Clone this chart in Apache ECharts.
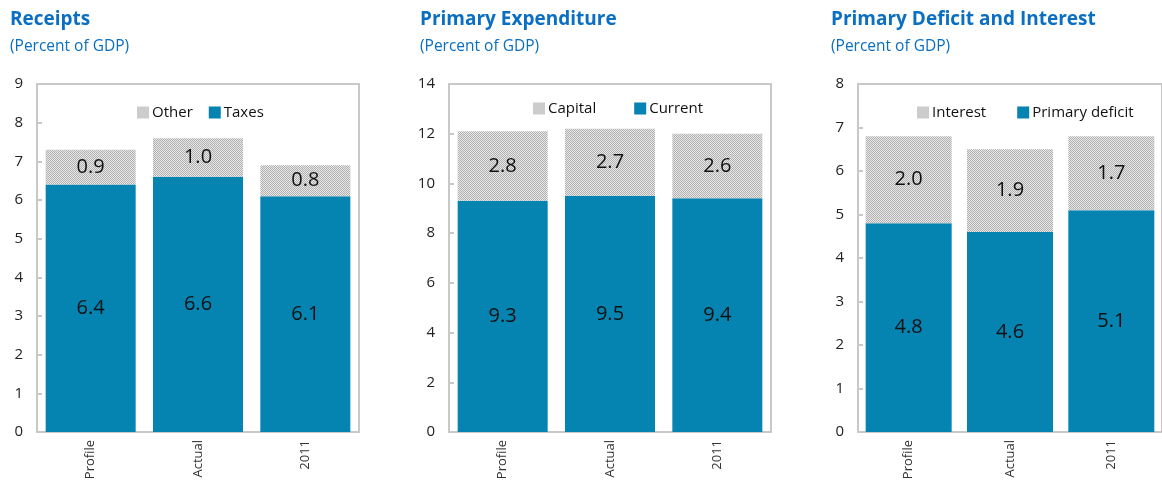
<!DOCTYPE html>
<html>
<head>
<meta charset="utf-8">
<script src="https://cdn.jsdelivr.net/npm/echarts@6/dist/echarts.min.js"></script>
<style>
  html, body { margin: 0; padding: 0; background: #fff; }
  #chart { width: 1162px; height: 483px; }
</style>
</head>
<body>
<div id="chart"></div>
<script>
// categories shared by all three panels
const categories = ['Profile', 'Actual', '2011'];

// Receipts
const taxes = [6.4, 6.6, 6.1];
const otherReceipts = [0.9, 1.0, 0.8];
// Primary expenditure
const current = [9.3, 9.5, 9.4];
const capital = [2.8, 2.7, 2.6];
// Primary deficit and interest
const primaryDeficit = [4.8, 4.6, 5.1];
const interest = [2.0, 1.9, 1.7];

const titleColor = '#0a6fc2';
const blue = '#0583b1';
const font = '"Open Sans", "Noto Sans", sans-serif';

// dotted grey fill (checkerboard)
function makePattern() {
  const c = document.createElement('canvas');
  c.width = 2; c.height = 2;
  const ctx = c.getContext('2d');
  ctx.fillStyle = '#e8e8e8';
  ctx.fillRect(0, 0, 2, 2);
  ctx.fillStyle = '#b0b0b0';
  ctx.fillRect(0, 0, 1, 1);
  ctx.fillRect(1, 1, 1, 1);
  return c;
}
const grey = {image: makePattern(), repeat: 'repeat'};

const panels = [
  {title: 'Receipts', titleLeft: 5, left: 37, width: 322, max: 9, interval: 1,
   names: ['Other', 'Taxes'], base: taxes, top: otherReceipts, barWidth: 90,
   legendLeft: 132, legendTop: 100, legendGap: 16},
  {title: 'Primary Expenditure', titleLeft: 415, left: 449, width: 322, max: 14, interval: 2,
   names: ['Capital', 'Current'], base: current, top: capital, barWidth: 90,
   legendLeft: 528, legendTop: 96, legendGap: 38},
  {title: 'Primary Deficit and Interest', titleLeft: 826, left: 858, width: 312, max: 8, interval: 1,
   names: ['Interest', 'Primary deficit'], base: primaryDeficit, top: interest, barWidth: 86,
   legendLeft: 912, legendTop: 100, legendGap: 31}
];

const chart = echarts.init(document.getElementById('chart'));

const option = {
  animation: false,
  textStyle: {fontFamily: font},
  title: [], legend: [], grid: [], xAxis: [], yAxis: [], series: []
};

panels.forEach((p, i) => {
  option.title.push({
    text: p.title,
    subtext: '(Percent of GDP)',
    left: p.titleLeft, top: 5,
    itemGap: 10,
    textStyle: {color: titleColor, fontSize: 19, fontWeight: 'bold', fontFamily: font},
    subtextStyle: {color: titleColor, fontSize: 15.5, fontFamily: font}
  });
  option.legend.push({
    data: p.names,
    left: p.legendLeft, top: p.legendTop,
    itemWidth: 12, itemHeight: 12, itemGap: p.legendGap,
    icon: 'rect',
    textStyle: {fontSize: 15, color: '#111', fontFamily: font, padding: [0, 0, 0, -2]}
  });
  option.grid.push({
    left: p.left, width: p.width, top: 84, height: 348,
    show: true, borderColor: '#c8c8c8', borderWidth: 2, backgroundColor: 'transparent'
  });
  option.xAxis.push({
    type: 'category', gridIndex: i, data: categories,
    axisLine: {show: true, lineStyle: {color: '#c8c8c8', width: 2}},
    axisTick: {show: false},
    axisLabel: {rotate: 90, fontSize: 13, color: '#333', margin: 8, fontFamily: font}
  });
  option.yAxis.push({
    type: 'value', gridIndex: i, min: 0, max: p.max, interval: p.interval,
    axisLine: {show: true, lineStyle: {color: '#c8c8c8', width: 2}},
    axisTick: {show: true, inside: true, length: 5, lineStyle: {color: '#c8c8c8', width: 2}},
    splitLine: {show: false},
    axisLabel: {fontSize: 15, color: '#222', margin: 14, fontFamily: font}
  });
  const label = {show: true, position: 'inside', fontSize: 20, color: '#111', fontFamily: font,
                 formatter: d => d.value.toFixed(1)};
  option.series.push({
    name: p.names[1], type: 'bar', stack: 's' + i,
    xAxisIndex: i, yAxisIndex: i,
    barWidth: p.barWidth,
    itemStyle: {color: blue},
    label: label,
    data: p.base
  });
  option.series.push({
    name: p.names[0], type: 'bar', stack: 's' + i,
    xAxisIndex: i, yAxisIndex: i,
    barWidth: p.barWidth,
    itemStyle: {color: grey},
    label: label,
    data: p.top
  });
});

chart.setOption(option);
</script>
</body>
</html>
